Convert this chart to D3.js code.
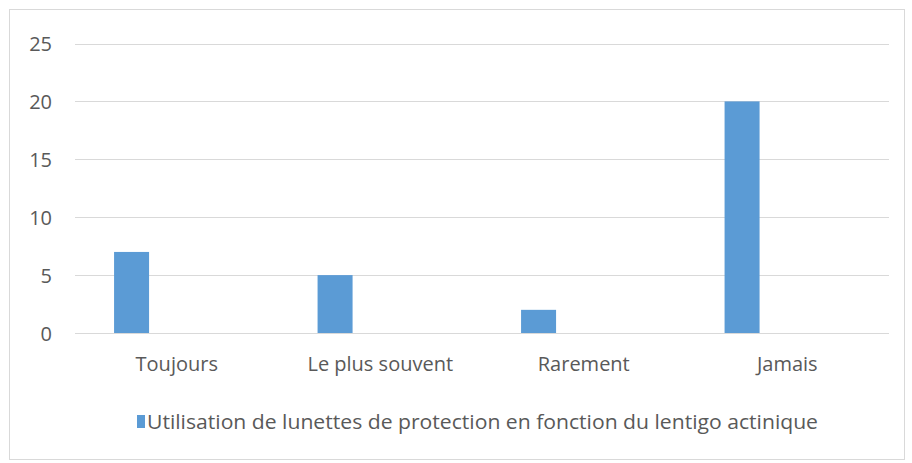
<!DOCTYPE html>
<html>
<head>
<meta charset="utf-8">
<script src="https://cdn.jsdelivr.net/npm/d3@7"></script>
<style>
  html, body { margin: 0; padding: 0; background: #fff; }
  svg { display: block; }
  text { font-family: "Open Sans", "Liberation Sans", sans-serif; fill: #595959; }
</style>
</head>
<body>
<svg id="chart" width="912" height="463"></svg>
<script>
// Survey answers and counts
const categories = ["Toujours", "Le plus souvent", "Rarement", "Jamais"];
const values = [7, 5, 2, 20];
const seriesName = "Utilisation de lunettes de protection en fonction du lentigo actinique";
const yTicks = [0, 5, 10, 15, 20, 25];

const svg = d3.select("#chart");
const FONT = "'Open Sans', 'Liberation Sans', sans-serif";

// chart frame
svg.append("rect")
  .attr("x", 9.5).attr("y", 9.5)
  .attr("width", 895).attr("height", 450)
  .attr("fill", "#fff").attr("stroke", "#d9d9d9").attr("stroke-width", 1);

const plot = { left: 75, right: 889, top: 43.5, bottom: 333 };

const x = d3.scaleBand()
  .domain(categories)
  .range([plot.left, plot.right])
  .paddingInner(0).paddingOuter(0);

const y = d3.scaleLinear()
  .domain([0, 25])
  .range([plot.bottom, plot.top]);

// gridlines
svg.append("g")
  .selectAll("line")
  .data(yTicks)
  .join("line")
  .attr("x1", plot.left).attr("x2", plot.right)
  .attr("y1", d => Math.round(y(d)) + 0.5)
  .attr("y2", d => Math.round(y(d)) + 0.5)
  .attr("stroke", "#d9d9d9").attr("stroke-width", 1);

// y axis labels
const yAxis = d3.axisLeft(y).tickValues(yTicks).tickSize(0).tickPadding(0);
const gy = svg.append("g").attr("transform", "translate(52,0)").call(yAxis);
gy.select(".domain").remove();
gy.selectAll("text")
  .attr("font-size", 20)
  .attr("dy", "0.36em")
  .style("font-family", FONT)
  .attr("fill", "#595959");

// bars: first slot of each category band
const slotOffset = 0.192, slotWidth = 0.172;
svg.append("g")
  .selectAll("rect")
  .data(categories.map((c, i) => ({ c, v: values[i] })))
  .join("rect")
  .attr("x", d => x(d.c) + x.bandwidth() * slotOffset)
  .attr("width", x.bandwidth() * slotWidth)
  .attr("y", d => y(d.v))
  .attr("height", d => y(0) - y(d.v))
  .attr("fill", "#5b9bd5");

// x axis labels
const xAxis = d3.axisBottom(x).tickSize(0).tickPadding(0);
const gx = svg.append("g").attr("transform", `translate(0,${plot.bottom})`).call(xAxis);
gx.select(".domain").remove();
gx.selectAll("text")
  .attr("font-size", 20)
  .attr("y", 38)
  .attr("dy", 0)
  .style("font-family", FONT)
  .attr("fill", "#595959");

// legend
const legend = svg.append("g");
legend.append("rect")
  .attr("x", 137).attr("y", 415)
  .attr("width", 8).attr("height", 13)
  .attr("fill", "#5b9bd5");
legend.append("text")
  .attr("x", 147).attr("y", 429)
  .attr("font-size", 20.5)
  .attr("textLength", 671)
  .attr("lengthAdjust", "spacingAndGlyphs")
  .text(seriesName);
</script>
</body>
</html>
